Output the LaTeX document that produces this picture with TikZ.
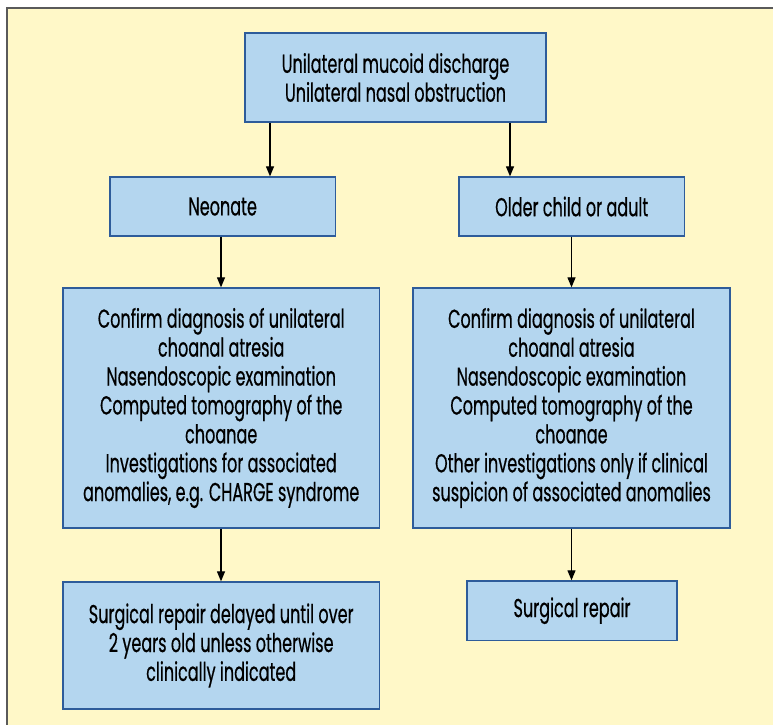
\documentclass[tikz,border=0pt]{standalone}
\usepackage{fontspec}
\setmainfont[FakeStretch=0.62,FakeBold=0.5]{Poppins}
\usetikzlibrary{arrows.meta}
\definecolor{panel}{HTML}{FFF8C8}
\definecolor{panelline}{HTML}{5A5A5A}
\definecolor{boxfill}{HTML}{B4D6EF}
\definecolor{boxline}{HTML}{2E5C9A}
\begin{document}
\begin{tikzpicture}[x=1bp,y=-1bp,
  fbox/.style={draw=boxline,fill=boxfill,line width=1.3bp,inner sep=0pt,align=center,
    font=\fontsize{26}{29}\selectfont},
  arr/.style={draw=black,line width=1.2bp,-{Triangle[length=10bp,width=8bp]}}]
\useasboundingbox (0,0) rectangle (773,725);
\clip (0,0) rectangle (773,725);
\fill[white] (0,0) rectangle (773,725);
\filldraw[fill=panel,draw=panelline,line width=1.5bp] (7,8) rectangle (790,740);
\node[fbox,minimum width=301bp,minimum height=89bp] (top) at (395.5,77.5)
  {Unilateral mucoid discharge\\Unilateral nasal obstruction};
\node[fbox,minimum width=225.5bp,minimum height=59bp] (neo) at (222.7,206.5) {Neonate};
\node[fbox,minimum width=225.5bp,minimum height=59bp] (old) at (571.7,206.5) {Older child or adult};
\node[fbox,minimum width=316.5bp,minimum height=240bp] (lbig) at (221.2,408)
  {Confirm diagnosis of unilateral\\choanal atresia\\Nasendoscopic examination\\Computed tomography of the\\choanae\\Investigations for associated\\anomalies, e.g. CHARGE syndrome};
\node[fbox,minimum width=317bp,minimum height=240bp] (rbig) at (571.5,408)
  {Confirm diagnosis of unilateral\\choanal atresia\\Nasendoscopic examination\\Computed tomography of the\\choanae\\Other investigations only if clinical\\suspicion of associated anomalies};
\node[fbox,minimum width=316.5bp,minimum height=127bp] (lbot) at (221.2,645.5)
  {Surgical repair delayed until over\\2\,years old unless otherwise\\clinically indicated};
\node[fbox,minimum width=210bp,minimum height=59.5bp] (rbot) at (572,610.7) {Surgical repair};
\coordinate (cl) at (270,0);
\coordinate (cr) at (510,0);
\coordinate (cl2) at (221,0);
\coordinate (cr2) at (571.5,0);
\draw[arr] (cl |- top.south) -- (cl |- neo.north);
\draw[arr] (cr |- top.south) -- (cr |- old.north);
\draw[arr] (cl2 |- neo.south) -- (cl2 |- lbig.north);
\draw[arr] (cr2 |- old.south) -- (cr2 |- rbig.north);
\draw[arr] (cl2 |- lbig.south) -- (cl2 |- lbot.north);
\draw[arr] (cr2 |- rbig.south) -- (cr2 |- rbot.north);
\end{tikzpicture}
\end{document}
